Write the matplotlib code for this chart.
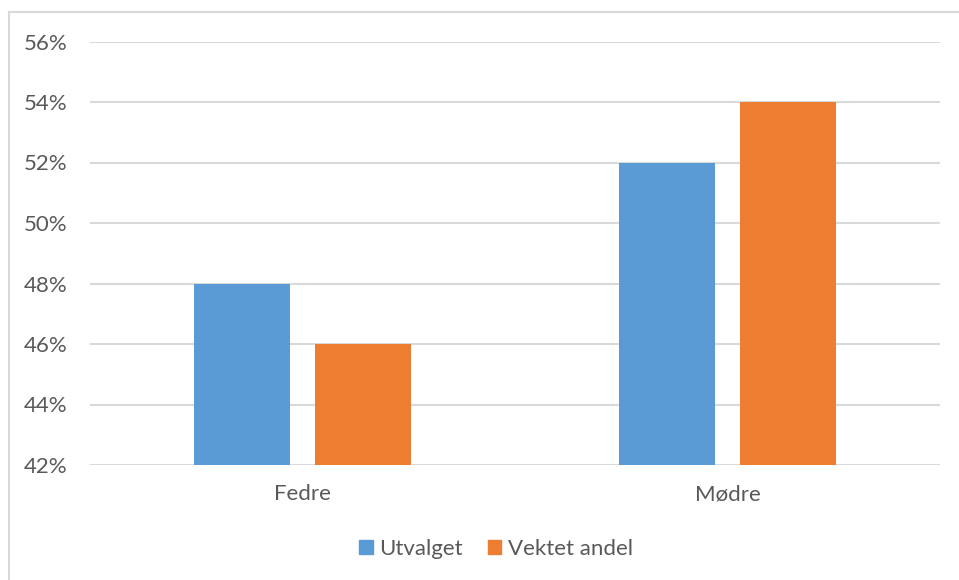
import matplotlib
matplotlib.use("Agg")
import matplotlib.pyplot as plt
from matplotlib.patches import Patch
from matplotlib.lines import Line2D
import numpy as np

categories = ["Fedre", "Mødre"]
series_names = ["Utvalget", "Vektet andel"]
utvalget = [48, 52]
vektet_andel = [46, 54]
y_ticks = [42, 44, 46, 48, 50, 52, 54, 56]

BLUE = "#5B9BD5"
ORANGE = "#ED7D31"
TEXT = "#595959"
GRID = "#D9D9D9"

plt.rcParams["font.family"] = ["Lato", "DejaVu Sans"]

W, H = 959, 580
fig = plt.figure(figsize=(W / 100, H / 100), dpi=100)

# outer chart frame (top and left edges visible)
fig.add_artist(Line2D([9 / W, 1.0], [1 - 12 / H, 1 - 12 / H], color=GRID, lw=1.5,
                      transform=fig.transFigure))
fig.add_artist(Line2D([9 / W, 9 / W], [0, 1 - 12 / H], color=GRID, lw=1.5,
                      transform=fig.transFigure))

left, right = 90 / W, 940 / W
top, bottom = 1 - 41.5 / H, 1 - 465 / H
ax = fig.add_axes([left, bottom, right - left, top - bottom])

x = np.arange(len(categories))
bw = 0.225
off = 0.142
ax.bar(x - off, utvalget, width=bw, color=BLUE, zorder=3, label=series_names[0])
ax.bar(x + off, vektet_andel, width=bw, color=ORANGE, zorder=3, label=series_names[1])

ax.set_xlim(-0.5, len(categories) - 0.5)
ax.set_ylim(y_ticks[0], y_ticks[-1])
ax.set_yticks(y_ticks)
ax.set_yticklabels([f"{v}%" for v in y_ticks])
ax.set_xticks(x)
ax.set_xticklabels(categories)

ax.grid(axis="y", color=GRID, lw=1.5, zorder=0)
ax.set_axisbelow(True)
for s in ax.spines.values():
    s.set_visible(False)
ax.tick_params(axis="both", length=0, colors=TEXT, labelsize=16)
ax.tick_params(axis="y", pad=16.5)
ax.tick_params(axis="x", pad=14)

handles = [Patch(color=BLUE), Patch(color=ORANGE)]
fig.legend(handles, series_names, loc="center", bbox_to_anchor=(496 / W, 1 - 549 / H),
           ncol=2, frameon=False, fontsize=16, labelcolor=TEXT,
           handlelength=0.6, handleheight=0.6, handletextpad=0.3, columnspacing=1.1)

fig.savefig("out.png", dpi=100, facecolor="white")
